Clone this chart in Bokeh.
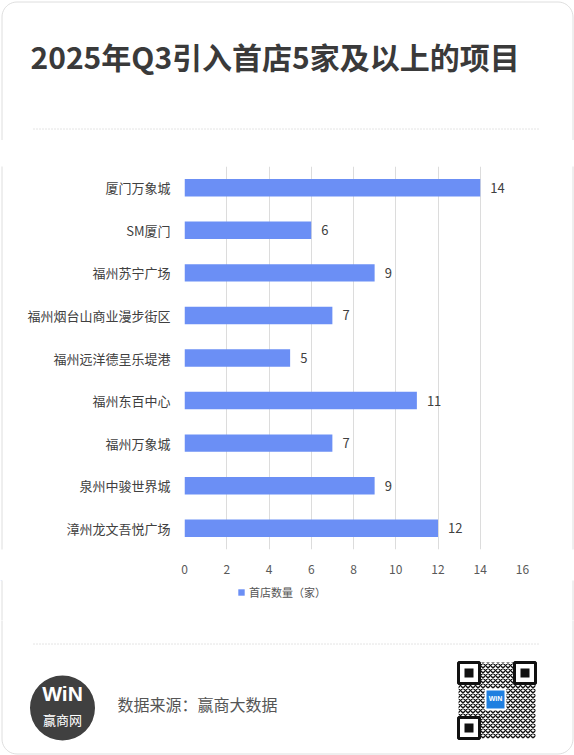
import numpy as np
from bokeh.plotting import figure
from bokeh.layouts import column, row
from bokeh.models import (Range1d, LabelSet, Legend, LegendItem,
                          ColumnDataSource, FixedTicker)
from bokeh.core.properties import value
from bokeh.embed import file_html
from bokeh.resources import INLINE

# ---------------- data ----------------
categories = ["厦门万象城", "SM厦门", "福州苏宁广场", "福州烟台山商业漫步街区",
              "福州远洋德呈乐堤港", "福州东百中心", "福州万象城", "泉州中骏世界城",
              "漳州龙文吾悦广场"]
values = [14, 6, 9, 7, 5, 11, 7, 9, 12]
x_ticks = [0, 2, 4, 6, 8, 10, 12, 14, 16]
series_name = "首店数量（家）"
title_text = "2025年Q3引入首店5家及以上的项目"
source_text = "数据来源：赢商大数据"

# ---------------- styling ----------------
CJK = "Noto Sans CJK SC"
BAR = "#6B8FF5"
CARD = "#dedede"
W = 574
SW = 8  # side strip width
HEAD_H, CHART_H, LEG_H, FOOT_H = 140, 440, 40, 135
CL, CR, CT, CB, RAD = 1.5, 572.5, 1.5, 753.5, 15


def blank(w, h, x0, y0):
    """A figure whose whole canvas is its frame, in page pixel coordinates."""
    f = figure(width=w, height=h, output_backend="svg", toolbar_location=None,
               x_range=Range1d(x0, x0 + w), y_range=Range1d(y0 + h, y0),
               x_axis_type=None, y_axis_type=None, min_border=0, title=None)
    f.grid.visible = False
    f.outline_line_color = None
    f.background_fill_color = "white"
    f.border_fill_color = "white"
    return f


def txt(f, x, y, s, size, color, bold=False, align="left", font=CJK):
    f.text(x=[x], y=[y], text=[s], text_font=value(font),
           text_font_size=value(size), text_color=color,
           text_font_style="bold" if bold else "normal",
           text_align=align, text_baseline="middle")


def dotted(f, y):
    f.line(x=[33, 540], y=[y, y], line_color="#c8c8c8", line_width=1,
           line_dash="1 2")


def sides(f, y0, y1):
    f.line(x=[CL, CL], y=[y0, y1], line_color=CARD, line_width=1)
    f.line(x=[CR, CR], y=[y0, y1], line_color=CARD, line_width=1)


def card_edge(f, y_edge, y_far, sign):
    """Rounded card outline: sign=-1 for the top edge, +1 for the bottom."""
    t = np.linspace(0, np.pi / 2, 12)
    yc = y_edge - sign * RAD
    left_x = CL + RAD - RAD * np.cos(t)
    left_y = yc + sign * RAD * np.sin(t)
    right_x = CR - RAD + RAD * np.cos(t[::-1])
    right_y = yc + sign * RAD * np.sin(t[::-1])
    xs = [CL] + list(left_x) + list(right_x) + [CR]
    ys = [y_far] + list(left_y) + list(right_y) + [y_far]
    f.line(x=xs, y=ys, line_color=CARD, line_width=1)


# ---------------- header ----------------
head = blank(W, HEAD_H, 0, 0)
card_edge(head, CT, HEAD_H + 1, -1)
txt(head, 30, 55, title_text, "30px", "#3a3a3a", bold=True)
dotted(head, 128.5)

# ---------------- chart ----------------
n = len(categories)
pos = list(range(n))
p = figure(width=W - 2 * SW, height=CHART_H, output_backend="svg",
           toolbar_location=None,
           x_range=Range1d(0, 16), y_range=Range1d(n - 0.5, -0.5),
           min_border_left=184 - SW, min_border_right=W - SW - 522,
           min_border_top=26, min_border_bottom=31)
p.outline_line_color = None
p.background_fill_color = "white"
p.border_fill_color = "white"

src = ColumnDataSource(dict(y=pos, c=categories, v=values,
                            t=[str(v) for v in values]))
r = p.hbar(y="y", right="v", left=0, height=0.41, source=src,
           fill_color=BAR, line_color=None)

p.xaxis.ticker = FixedTicker(ticks=x_ticks)
p.xaxis.axis_line_color = None
p.xaxis.major_tick_line_color = None
p.xaxis.minor_tick_line_color = None
p.xaxis.major_label_standoff = 9
p.xaxis.major_label_text_font = CJK
p.xaxis.major_label_text_font_size = "12px"
p.xaxis.major_label_text_color = "#595959"

p.yaxis.ticker = FixedTicker(ticks=pos)
p.yaxis.major_label_overrides = {i: c for i, c in zip(pos, categories)}
p.yaxis.axis_line_color = None
p.yaxis.major_tick_line_color = None
p.yaxis.minor_tick_line_color = None
p.yaxis.major_label_standoff = 8
p.yaxis.major_label_text_font = CJK
p.yaxis.major_label_text_font_size = "13px"
p.yaxis.major_label_text_color = "#404040"

p.xgrid.grid_line_color = "#dcdcdc"
p.ygrid.grid_line_color = None

p.add_layout(LabelSet(x="v", y="y", text="t", source=src, x_offset=10,
                      text_baseline="middle", text_font=value(CJK),
                      text_font_size=value("13px"), text_color="#404040"))

lstrip = blank(SW, CHART_H, 0, HEAD_H)
lstrip.line(x=[CL, CL], y=[HEAD_H - 1, HEAD_H + CHART_H + 1], line_color=CARD)
rstrip = blank(SW, CHART_H, W - SW, HEAD_H)
rstrip.line(x=[CR, CR], y=[HEAD_H - 1, HEAD_H + CHART_H + 1], line_color=CARD)

# ---------------- legend strip ----------------
LY = HEAD_H + CHART_H
leg = blank(W, LEG_H, 0, LY)
sides(leg, LY - 1, LY + LEG_H + 1)
key = leg.hbar(y=[LY - 500], right=[1], left=0, height=1, fill_color=BAR,
               line_color=None)
legend = Legend(items=[LegendItem(label=series_name, renderers=[key])],
                location=(237, 20), orientation="horizontal",
                glyph_width=8, glyph_height=8, label_standoff=4, padding=0,
                margin=0, label_height=8, border_line_color=None,
                background_fill_alpha=0, label_text_font=CJK,
                label_text_font_size="11px", label_text_color="#555555")
leg.add_layout(legend)

# ---------------- footer ----------------
FY = LY + LEG_H
foot = blank(W, FOOT_H, 0, FY)
card_edge(foot, CB, FY - 1, 1)
dotted(foot, 643.5)
foot.scatter(x=[62], y=[707.5], size=65, marker="circle",
             fill_color="#404040", line_color=None)
txt(foot, 62, 693, "WiN", "21px", "white", bold=True, align="center",
    font="Liberation Sans")
txt(foot, 62, 719, "赢商网", "13px", "white", align="center")
txt(foot, 117, 703, source_text, "16px", "#555555")

# QR-like badge
foot.quad(left=[458], right=[535], top=[662], bottom=[738], fill_color="white",
          line_color=None, hatch_pattern="diagonal_cross",
          hatch_color="#111111", hatch_scale=5, hatch_weight=1.4)
fx = [458, 514, 458]
fy = [662, 662, 717]
foot.quad(left=fx, right=[v + 21 for v in fx], top=fy,
          bottom=[v + 21 for v in fy], fill_color="white",
          line_color="#111111", line_width=3)
foot.quad(left=[v + 6 for v in fx], right=[v + 15 for v in fx],
          top=[v + 6 for v in fy], bottom=[v + 15 for v in fy],
          fill_color="#111111", line_color=None)
foot.quad(left=[485], right=[505], top=[689], bottom=[709],
          fill_color="#1f7fe0", line_color="white", line_width=2)
txt(foot, 495, 698, "WiN", "7px", "white", bold=True, align="center",
    font="Liberation Sans")

layout = column(head, row(lstrip, p, rstrip, spacing=0), leg, foot, spacing=0)

open("out.html", "w").write(file_html(layout, INLINE))
